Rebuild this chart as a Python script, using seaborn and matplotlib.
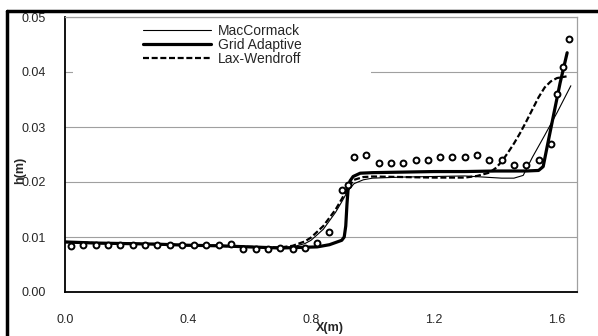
import numpy as np
import pandas as pd
import matplotlib
matplotlib.use("Agg")
import matplotlib.pyplot as plt
from matplotlib.patches import Rectangle
from matplotlib.lines import Line2D
import seaborn as sns

sns.set_style("white")
plt.rcParams['font.family'] = ['Liberation Sans', 'DejaVu Sans']

# --- dados ---
# Grid Adaptive (linha grossa)
x_grid = [0, 0.1, 0.2, 0.3, 0.4, 0.5, 0.6, 0.7, 0.76, 0.82, 0.86, 0.88, 0.90, 0.908,
          0.913, 0.917, 0.921, 0.927, 0.937, 0.96, 1.0, 1.1, 1.2, 1.3, 1.4, 1.5, 1.54,
          1.555, 1.57, 1.59, 1.61, 1.633]
h_grid = [0.0091, 0.0089, 0.0088, 0.0087, 0.0085, 0.0084, 0.0082, 0.0080, 0.0081, 0.0082,
          0.0086, 0.0090, 0.0094, 0.0100, 0.0120, 0.0160, 0.0190, 0.0202, 0.0210, 0.0216,
          0.0217, 0.0218, 0.0219, 0.0219, 0.0220, 0.0220, 0.0221, 0.0228, 0.0270, 0.0325,
          0.0380, 0.0435]

# MacCormack (linha fina)
x_mac = [0, 0.1, 0.2, 0.3, 0.4, 0.5, 0.6, 0.7, 0.74, 0.78, 0.80, 0.84, 0.88, 0.90, 0.92,
         0.94, 0.97, 1.0, 1.1, 1.2, 1.3, 1.36, 1.42, 1.46, 1.49, 1.52, 1.56, 1.60, 1.645]
h_mac = [0.0091, 0.0089, 0.0088, 0.0087, 0.0085, 0.0084, 0.0082, 0.0080, 0.0082, 0.0088,
         0.0094, 0.0114, 0.0145, 0.0164, 0.0184, 0.0197, 0.0204, 0.0207, 0.0209, 0.0210,
         0.0211, 0.0209, 0.0207, 0.0207, 0.0212, 0.0245, 0.0285, 0.0326, 0.0375]

# Lax-Wendroff (tracejada)
x_lax = [0, 0.1, 0.2, 0.3, 0.4, 0.5, 0.6, 0.7, 0.74, 0.78, 0.80, 0.84, 0.88, 0.90, 0.92,
         0.94, 0.97, 1.0, 1.1, 1.2, 1.3, 1.34, 1.38, 1.40, 1.42, 1.44, 1.46, 1.48, 1.50,
         1.52, 1.54, 1.56, 1.58, 1.60, 1.631]
h_lax = [0.0091, 0.0089, 0.0088, 0.0087, 0.0085, 0.0084, 0.0082, 0.0081, 0.0084, 0.0092,
         0.0099, 0.0120, 0.0150, 0.0169, 0.0190, 0.0204, 0.0209, 0.0210, 0.0209, 0.0208,
         0.0208, 0.0211, 0.0217, 0.0225, 0.0237, 0.0253, 0.0270, 0.0289, 0.0310, 0.0332,
         0.0354, 0.0372, 0.0383, 0.0389, 0.0392]

# Observado (circulos)
x_obs = [0.02, 0.06, 0.10, 0.14, 0.18, 0.22, 0.26, 0.30, 0.34, 0.38, 0.42, 0.46, 0.50,
         0.54, 0.58, 0.62, 0.66, 0.70, 0.74, 0.78, 0.82, 0.86, 0.90, 0.92, 0.94, 0.98,
         1.02, 1.06, 1.10, 1.14, 1.18, 1.22, 1.26, 1.30, 1.34, 1.38, 1.42, 1.46, 1.50,
         1.54, 1.58, 1.60, 1.62, 1.64]
h_obs = [0.0084, 0.0085, 0.0085, 0.0085, 0.0085, 0.0085, 0.0085, 0.0085, 0.0085, 0.0085,
         0.0085, 0.0085, 0.0086, 0.0087, 0.0079, 0.0079, 0.0079, 0.0080, 0.0079, 0.0080,
         0.0090, 0.0110, 0.0185, 0.0195, 0.0245, 0.0250, 0.0235, 0.0235, 0.0235, 0.0240,
         0.0240, 0.0245, 0.0245, 0.0245, 0.0250, 0.0240, 0.0240, 0.0231, 0.0231, 0.0240,
         0.0270, 0.0360, 0.0410, 0.0460]

x_ticks = [0.0, 0.4, 0.8, 1.2, 1.6]
y_ticks = [0.00, 0.01, 0.02, 0.03, 0.04, 0.05]

df_grid = pd.DataFrame({'x': x_grid, 'h': h_grid})
df_mac = pd.DataFrame({'x': x_mac, 'h': h_mac})
df_lax = pd.DataFrame({'x': x_lax, 'h': h_lax})
df_obs = pd.DataFrame({'x': x_obs, 'h': h_obs})

fig = plt.figure(figsize=(5.98, 3.36), dpi=100)
ax = fig.add_axes([65 / 598, 1 - 292 / 336, 512 / 598, 275 / 336])

# grade horizontal
for yv in y_ticks[1:]:
    ax.axhline(yv, color='#a0a0a0', lw=0.8, zorder=0)

# caixa branca da legenda (cobre a grade)
ax.add_patch(Rectangle((0.016, 0.77), 0.582, 0.215, transform=ax.transAxes,
                       facecolor='white', edgecolor='none', zorder=1))

sns.lineplot(data=df_mac, x='x', y='h', ax=ax, sort=False, color='black', lw=0.8,
             label='MacCormack', zorder=3)
sns.lineplot(data=df_grid, x='x', y='h', ax=ax, sort=False, color='black', lw=2.3,
             label='Grid Adaptive', zorder=4)
sns.lineplot(data=df_lax, x='x', y='h', ax=ax, sort=False, color='black', lw=1.6,
             dashes=False, label='Lax-Wendroff', zorder=3)
ax.lines[-1].set_dashes((2.7, 1.2))
sns.scatterplot(data=df_obs, x='x', y='h', ax=ax, marker='o', s=18, facecolor='white',
                edgecolor='black', linewidth=1.4, zorder=5, legend=False)

ax.set_xlim(0, 1.665)
ax.set_ylim(0, 0.05)
ax.set_xticks(x_ticks)
ax.set_xticklabels([f'{v:.1f}' for v in x_ticks])
ax.set_yticks(y_ticks)
ax.set_yticklabels([f'{v:.2f}' for v in y_ticks])
ax.tick_params(axis='both', labelsize=9, direction='out', length=3, color='#a0a0a0')
ax.tick_params(axis='y', pad=11)
ax.tick_params(axis='x', pad=13)
ax.set_xlabel('')
ax.set_ylabel('')

for s in ['left', 'bottom']:
    ax.spines[s].set_color('black')
    ax.spines[s].set_linewidth(1.3)
for s in ['top', 'right']:
    ax.spines[s].set_color('#a0a0a0')
    ax.spines[s].set_linewidth(0.9)

leg = ax.legend(loc='upper left', bbox_to_anchor=(0.152, 0.975), frameon=False,
                fontsize=10, handlelength=4.9, handletextpad=0.5, labelspacing=0.0,
                borderpad=0, borderaxespad=0)
leg.set_zorder(6)

fig.text(330 / 598, 1 - 328 / 336, 'X(m)', ha='center', va='center', fontsize=9,
         fontweight='bold')
fig.text(20 / 598, 1 - 170 / 336, 'h(m)', ha='center', va='center', fontsize=9,
         fontweight='bold', rotation=90)

# moldura externa (topo e esquerda)
fig.add_artist(Line2D([7 / 598, 1], [1 - 11 / 336, 1 - 11 / 336], color='black', lw=2.5,
                      transform=fig.transFigure))
fig.add_artist(Line2D([7 / 598, 7 / 598], [0, 1 - 11 / 336], color='black', lw=2.5,
                      transform=fig.transFigure))

fig.savefig('out.png', dpi=100)
